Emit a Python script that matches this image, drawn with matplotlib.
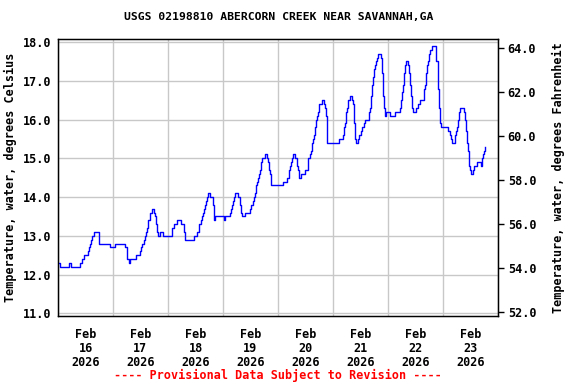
import matplotlib
matplotlib.use('Agg')
import matplotlib.pyplot as plt
import matplotlib.dates as mdates
import numpy as np
import pandas as pd

# breakpoints: hours after 2026-02-16 00:00, temperature degC
hours = [0.0, 0.7, 4.8, 5.5, 9.8, 10.5, 11.2, 13.0, 13.4, 13.8, 14.3, 14.9, 15.7,
         18.0, 22.6, 24.7, 29.3, 30.0, 30.3, 30.9, 31.4, 34.2, 35.7, 36.1, 36.7,
         37.4, 37.8, 38.3, 38.7, 39.3, 40.0, 40.3, 41.2, 41.9, 42.3, 42.8, 43.2,
         43.7, 44.4, 45.8,
         49.8, 50.5, 51.9, 53.5, 54.9, 55.3, 59.4, 60.8, 61.7, 62.6, 63.0, 63.4,
         63.9, 64.3, 64.7, 65.2, 65.6, 66.5, 67.8, 68.2, 68.7, 72.5, 72.9, 74.9,
         75.4, 75.8, 76.2, 76.7, 77.1, 78.5, 79.4, 79.9, 80.3, 81.5, 83.7, 84.4,
         85.0, 85.6, 86.0, 86.4, 86.9, 87.3, 87.7, 88.2, 88.6, 89.1, 90.2, 91.2,
         91.7, 92.1, 92.5, 92.8,
         98.2, 100.1, 100.7, 101.1, 101.5, 101.9, 102.4, 103.6, 104.3, 104.6,
         105.0, 106.2, 107.7, 109.1, 110.1, 110.6, 111.0, 111.4, 111.9, 112.3,
         112.7, 113.2, 113.6, 114.1, 115.4, 116.1, 116.5, 116.9, 117.4, 117.5,
         122.5, 124.4, 124.8, 125.2, 125.7, 126.1, 126.6, 127.6, 128.5, 128.9,
         129.3, 129.8, 130.0, 130.9, 131.5, 132.1, 132.8, 133.4, 134.0, 135.7,
         136.2, 136.6, 137.1, 137.5, 137.9, 138.4, 138.9, 139.4, 139.8, 140.8,
         141.3, 141.7, 142.2, 142.6, 143.3, 144.8,
         147.2, 149.3, 149.7, 150.1, 150.6, 151.0, 151.4, 151.9, 152.8, 153.2,
         153.6, 154.1, 154.5, 154.9, 156.4, 156.9, 158.1, 159.6, 160.0, 160.5,
         160.9, 161.3, 161.8, 162.2, 163.1, 164.8, 165.1, 165.6, 166.0, 166.3,
         166.6, 166.9, 167.3, 170.2, 170.9, 171.5, 172.1, 173.1, 173.6, 174.0,
         174.4, 174.9, 175.3, 177.2, 177.7, 178.1, 178.5, 179.0, 179.4, 179.8,
         180.2, 181.1, 181.6, 182.7, 184.7, 185.2, 185.6, 186.1, 186.5]
temp_c = [12.3, 12.2, 12.3, 12.2, 12.3, 12.4, 12.5, 12.6, 12.7, 12.8, 12.9, 13.0, 13.1,
          12.8, 12.7, 12.8, 12.7, 12.6, 12.4, 12.3, 12.4, 12.5, 12.6, 12.7, 12.8,
          12.9, 13.0, 13.1, 13.2, 13.4, 13.5, 13.6, 13.7, 13.6, 13.5, 13.3, 13.1,
          13.0, 13.1, 13.0,
          13.2, 13.3, 13.4, 13.3, 13.1, 12.9, 13.0, 13.1, 13.3, 13.4, 13.5, 13.6,
          13.7, 13.8, 13.9, 14.0, 14.1, 14.0, 13.8, 13.4, 13.5, 13.4, 13.5, 13.6,
          13.7, 13.8, 13.9, 14.0, 14.1, 14.0, 13.8, 13.6, 13.5, 13.6, 13.7, 13.8,
          13.9, 14.0, 14.1, 14.3, 14.4, 14.5, 14.6, 14.7, 14.9, 15.0, 15.1, 15.0,
          14.9, 14.7, 14.6, 14.3,
          14.4, 14.5, 14.7, 14.8, 14.9, 15.0, 15.1, 15.0, 14.8, 14.7,
          14.5, 14.6, 14.7, 15.0, 15.1, 15.2, 15.4, 15.5, 15.6, 15.8,
          16.0, 16.1, 16.2, 16.4, 16.5, 16.4, 16.3, 16.1, 15.8, 15.4,
          15.5, 15.6, 15.8, 15.9, 16.2, 16.3, 16.5, 16.6, 16.5, 16.4,
          15.9, 15.5, 15.4, 15.5, 15.6, 15.7, 15.8, 15.9, 16.0, 16.2,
          16.3, 16.6, 16.9, 17.1, 17.3, 17.4, 17.5, 17.6, 17.7, 17.6,
          17.2, 16.6, 16.3, 16.1, 16.2, 16.1,
          16.2, 16.3, 16.5, 16.7, 16.9, 17.2, 17.4, 17.5, 17.4, 17.2,
          16.9, 16.6, 16.3, 16.2, 16.3, 16.4, 16.5, 16.8, 16.9, 17.2,
          17.4, 17.5, 17.7, 17.8, 17.9, 17.8, 17.5, 17.2, 16.8, 16.3,
          16.0, 15.9, 15.8, 15.7, 15.6, 15.5, 15.4, 15.6, 15.7, 15.8,
          16.0, 16.2, 16.3, 16.2, 16.0, 15.7, 15.4, 15.2, 14.8, 14.7,
          14.6, 14.7, 14.8, 14.9, 14.8, 15.0, 15.1, 15.2, 15.3]

c_ticks = [11.0, 12.0, 13.0, 14.0, 15.0, 16.0, 17.0, 18.0]
f_ticks = [52.0, 54.0, 56.0, 58.0, 60.0, 62.0, 64.0]
title = 'USGS 02198810 ABERCORN CREEK NEAR SAVANNAH,GA'
footer = '---- Provisional Data Subject to Revision ----'

start = pd.Timestamp('2026-02-16')
times = start + pd.to_timedelta(hours, unit='h')

font = {'family': 'DejaVu Sans Mono', 'weight': 'bold', 'size': 8.5}

fig = plt.figure(figsize=(5.76, 3.84), dpi=100)
ax = fig.add_axes([58 / 576, 1 - 316 / 384, 440 / 576, 277 / 384])
ax.plot(times, temp_c, color='#0000ff', lw=1.0, drawstyle='steps-post', zorder=3)

ax.set_xlim(start, start + pd.Timedelta(days=8))
ax.set_ylim(10.93, 18.08)
ax.set_yticks(c_ticks)
ax.set_yticklabels(['%.1f' % v for v in c_ticks], **font)
ax.tick_params(axis='y', length=0, pad=5)

ax.xaxis.set_major_locator(mdates.DayLocator())
ax.xaxis.set_major_formatter(plt.NullFormatter())
ax.xaxis.set_minor_locator(mdates.HourLocator(byhour=[12]))
ax.xaxis.set_minor_formatter(mdates.DateFormatter('%b\n%d\n%Y'))
ax.tick_params(axis='x', which='both', length=0)
ax.tick_params(axis='x', which='minor', pad=9)
for lab in ax.get_xticklabels(minor=True):
    lab.set_fontfamily('DejaVu Sans Mono')
    lab.set_fontweight('bold')
    lab.set_fontsize(8.5)
    lab.set_linespacing(1.1)

ax.grid(True, which='major', color='#c8c8c8', lw=1.0)
ax.set_axisbelow(True)
for s in ax.spines.values():
    s.set_linewidth(1.0)

ax2 = ax.twinx()
ax2.set_ylim(51.83, 64.41)
ax2.set_yticks(f_ticks)
ax2.set_yticklabels(['%.1f' % v for v in f_ticks], **font)
ax2.tick_params(axis='y', length=4, width=1.0, pad=3)

ax.set_ylabel('Temperature, water, degrees Celsius', labelpad=4, **font)
ax2.set_ylabel('Temperature, water, degrees Fahrenheit', labelpad=11, **font)

fig.text(279 / 576, 1 - 17 / 384, title, ha='center', va='center', **dict(font, size=8.2))
fig.text(278 / 576, 1 - 375 / 384, footer, ha='center', va='center', color='red', **font)

fig.savefig('out.png', dpi=100)
